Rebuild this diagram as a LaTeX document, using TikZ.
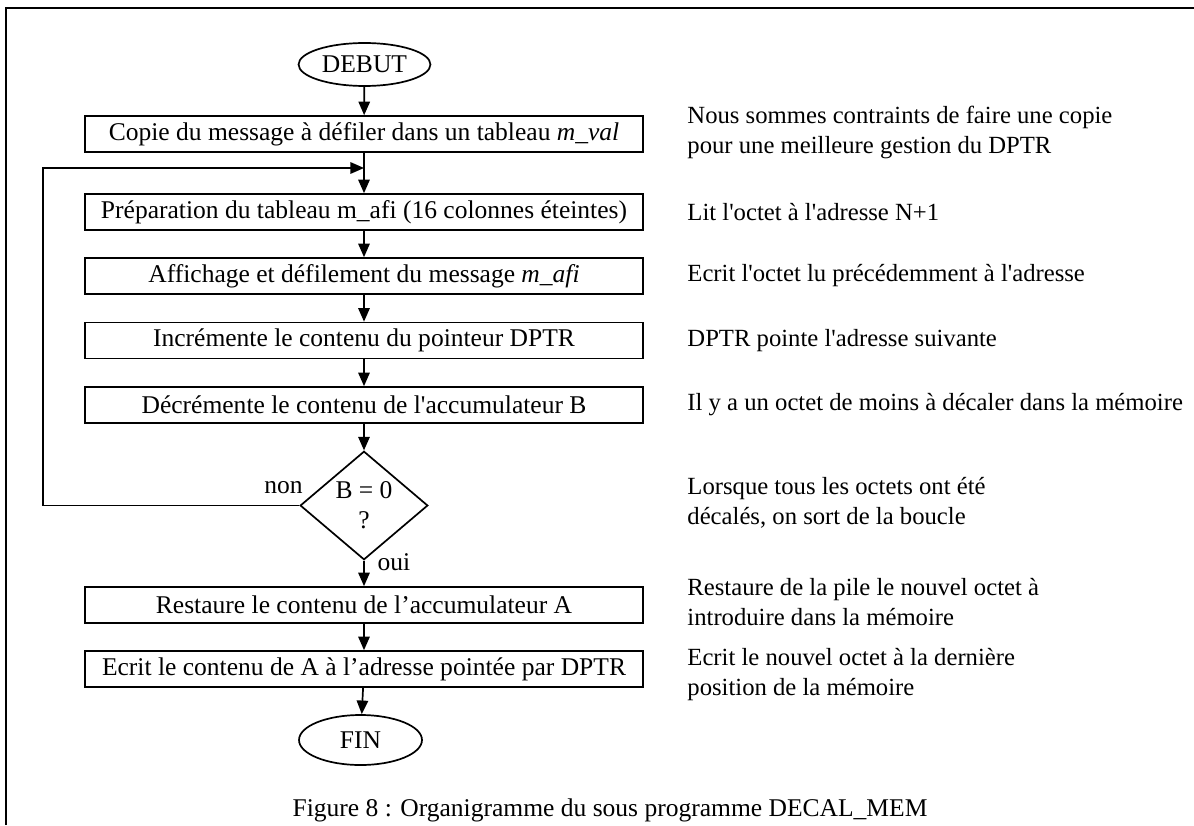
\documentclass[tikz,border=0pt]{standalone}
\usepackage{fontspec}
\setmainfont{Liberation Serif}[Ligatures=TeXOff]
\usetikzlibrary{shapes.geometric,arrows.meta}

\begin{document}
\begin{tikzpicture}[x=0.47pt,y=-0.47pt,
  every node/.style={font=\fontsize{12pt}{14.1pt}\selectfont},
  >={Triangle[length=6.4pt,width=5.4pt]},
  fleche/.style={thick,->},
  boite/.style={draw,thick,rectangle,minimum width=262pt,minimum height=16.9pt,inner sep=0pt},
  borne/.style={draw,thick,ellipse,inner sep=0pt},
  note/.style={anchor=west,align=left,inner sep=0pt,font=\fontsize{11.6pt}{14.1pt}\selectfont}]
\useasboundingbox (0,0) rectangle (1194,825);
\draw [line width=1.2pt] (6,825) -- (6,8) -- (1194,8);

% organigramme
\node [borne,minimum width=62pt,minimum height=20.2pt] (debut) at (364.5,64.5) {DEBUT};
\node [boite] (copie) at (364,134) {Copie du message à défiler dans un tableau \textit{m\_val}};
\node [boite] (prep) at (364,212) {Préparation du tableau m\_afi (16 colonnes éteintes)};
\node [boite] (affi) at (364,276) {Affichage et défilement du message \textit{m\_afi}};
\node [boite] (incr) at (364,340.5) {Incrémente le contenu du pointeur DPTR};
\node [boite] (decr) at (364,405) {Décrémente le contenu de l'accumulateur B};
\node [draw,thick,diamond,align=center,inner sep=0pt,minimum width=60pt,minimum height=51pt] (test) at (364,505.5) {B = 0\\?};
\node [boite] (rest) at (364,605) {Restaure le contenu de l’accumulateur A};
\node [boite] (ecrit) at (364,669) {Ecrit le contenu de A à l’adresse pointée par DPTR};
\node [borne,minimum width=57.8pt,minimum height=23.5pt] (fin) at (360.5,740) {FIN};

\node (non) at (283.5,488) {non};
\node (oui) at (394,562) {oui};

\coordinate (merge) at (364,168);
\coordinate (gauche) at (43,168);

\draw [fleche] (debut) -- (copie);
\draw [fleche] (copie) -- (prep);
\draw [fleche] (test.west) -| (gauche) -- (merge);
\draw [fleche] (prep) -- (affi);
\draw [fleche] (affi) -- (incr);
\draw [fleche] (incr) -- (decr);
\draw [fleche] (decr) -- (test);
\draw [fleche] (test) -- (rest);
\draw [fleche] (rest) -- (ecrit);
\draw [fleche] (ecrit) -- (fin);

% commentaires
\node [note] (c1) at (687,132) {Nous sommes contraints de faire une copie\\pour une meilleure gestion du DPTR};
\node [note] (c2) at (687,212) {Lit l'octet à l'adresse N+1};
\node [note] (c3) at (687,276) {Ecrit l'octet lu précédemment à l'adresse};
\node [note] (c4) at (687,340.5) {DPTR pointe l'adresse suivante};
\node [note] (c5) at (687,405) {Il y a un octet de moins à décaler dans la mémoire};
\node [note] (c6) at (687,502.5) {Lorsque tous les octets ont été\\décalés, on sort de la boucle};
\node [note] (c7) at (687,602.5) {Restaure de la pile le nouvel octet à\\introduire dans la mémoire};
\node [note] (c8) at (687,675) {Ecrit le nouvel octet à la dernière\\position de la mémoire};

\node (titre) at (610,810) {Figure 8 : Organigramme du sous programme DECAL\_MEM};

\end{tikzpicture}
\end{document}
